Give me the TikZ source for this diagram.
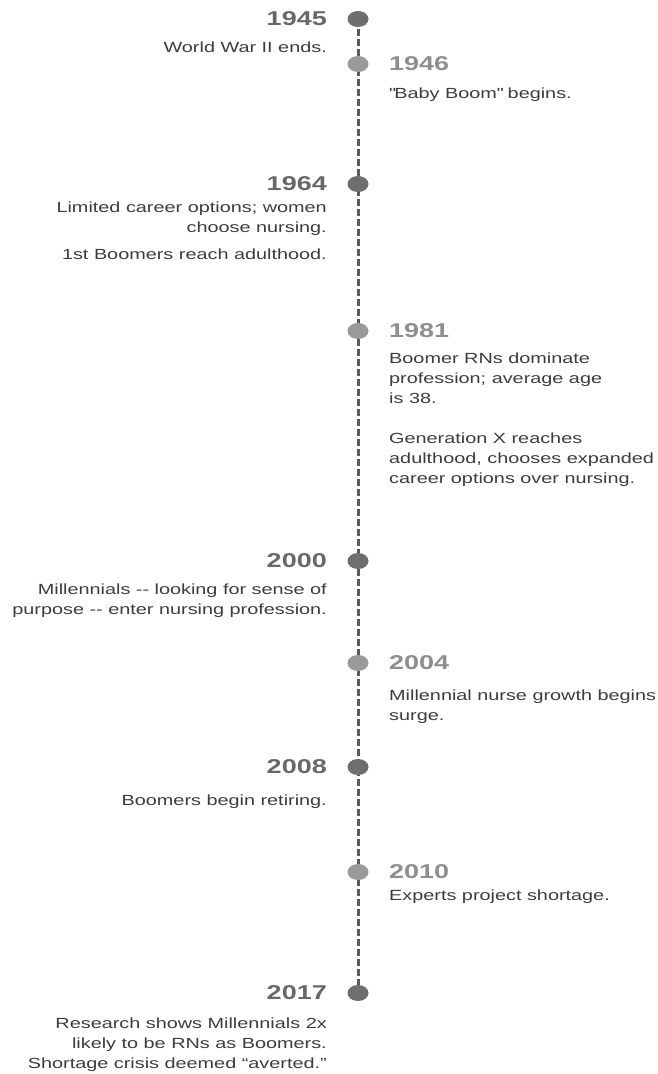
\documentclass[tikz,border=0pt]{standalone}
\usepackage{fontspec}
\setmainfont[FakeStretch=1.35]{Liberation Sans}
\usepackage{tikz}
\usetikzlibrary{shapes.geometric,backgrounds}

\definecolor{linegray}{HTML}{5A5A5A}
\definecolor{dotdark}{HTML}{6E6E6E}
\definecolor{dotlight}{HTML}{9A9A9A}
\definecolor{yeardark}{HTML}{686868}
\definecolor{yearlight}{HTML}{8E8E8E}
\definecolor{notegray}{HTML}{3C3C3C}

\newcommand\yearfont{\fontsize{20}{24}\selectfont\bfseries}
\newcommand\notefont{\fontsize{14.7}{20}\selectfont}

\begin{document}
\begin{tikzpicture}[x=1pt, y=-1pt,
    dotL/.style={ellipse, fill=dotdark, inner sep=0, minimum width=21pt, minimum height=16pt},
    dotR/.style={ellipse, fill=dotlight, inner sep=0, minimum width=21pt, minimum height=16pt},
    yearL/.style={font=\yearfont, text=yeardark, anchor=east, inner sep=0},
    yearR/.style={font=\yearfont, text=yearlight, anchor=west, inner sep=0},
    noteL/.style={font=\notefont, text=notegray, align=right, anchor=base east, inner sep=0},
    noteR/.style={font=\notefont, text=notegray, align=left, anchor=base west, inner sep=0},
    spine/.style={draw=linegray, line width=3pt, dash pattern=on 6.5pt off 3.5pt}]
    \useasboundingbox (0,0) rectangle (658,1074);

    % Dots
    \node[dotL] (d1945) at (358,19) {};
    \node[dotR] (d1946) at (358,64) {};
    \node[dotL] (d1964) at (358,184) {};
    \node[dotR] (d1981) at (358,331) {};
    \node[dotL] (d2000) at (358,561) {};
    \node[dotR] (d2004) at (358,663) {};
    \node[dotL] (d2008) at (358,767) {};
    \node[dotR] (d2010) at (358,872) {};
    \node[dotL] (d2017) at (358,993) {};

    % Spine
    \begin{scope}[on background layer]
        \draw[spine] (d1945.center) -- (d2017.center);
    \end{scope}

    % Years
    \node[yearL] (y1945) at (327,19) {1945};
    \node[yearR] (y1946) at (389,64) {1946};
    \node[yearL] (y1964) at (327,184) {1964};
    \node[yearR] (y1981) at (389,331) {1981};
    \node[yearL] (y2000) at (327,561) {2000};
    \node[yearR] (y2004) at (389,663) {2004};
    \node[yearL] (y2008) at (327,767) {2008};
    \node[yearR] (y2010) at (389,872) {2010};
    \node[yearL] (y2017) at (327,993) {2017};

    % Notes (anchored at the baseline of the last line)
    \node[noteL] (n1945) at (327,52) {World War II ends.};
    \node[noteR] (n1946) at (389,98) {\textquotedbl Baby Boom\textquotedbl{} begins.};
    \node[noteL] (n1964) at (327,259) {Limited career options; women\\choose nursing.\\[7pt]1st Boomers reach adulthood.};
    \node[noteR] (n1981) at (389,483) {Boomer RNs dominate\\profession; average age\\is 38.\\[20pt]Generation X reaches\\adulthood, chooses expanded\\career options over nursing.};
    \node[noteL] (n2000) at (327,614) {Millennials -{}- looking for sense of\\purpose -{}- enter nursing profession.};
    \node[noteR] (n2004) at (389,720) {Millennial nurse growth begins\\surge.};
    \node[noteL] (n2008) at (327,805) {Boomers begin retiring.};
    \node[noteR] (n2010) at (389,900) {Experts project shortage.};
    \node[noteL] (n2017) at (327,1068) {Research shows Millennials 2x\\likely to be RNs as Boomers.\\Shortage crisis deemed ``averted.''};
\end{tikzpicture}
\end{document}
